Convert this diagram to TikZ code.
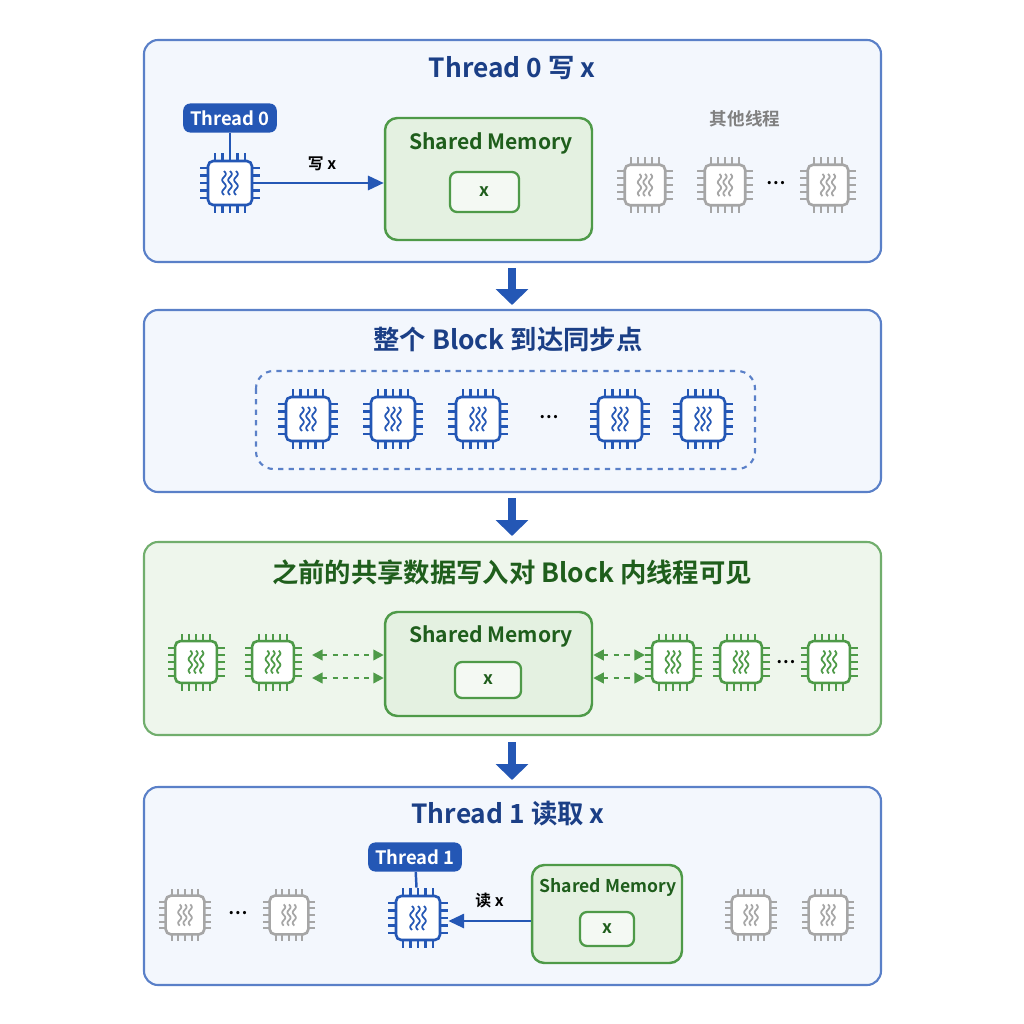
\documentclass[tikz,border=0pt]{standalone}
\usepackage{fontspec}
\setmainfont{Noto Sans CJK SC}[BoldFont={Noto Sans CJK SC Bold}]
\usetikzlibrary{arrows.meta,positioning}
\definecolor{bblue}{HTML}{2457B5}
\definecolor{pblue}{HTML}{5A80C8}
\definecolor{tblue}{HTML}{1B3F86}
\definecolor{bfill}{HTML}{F3F7FD}
\definecolor{ggreen}{HTML}{4E9A48}
\definecolor{tgreen}{HTML}{1F5E1C}
\definecolor{gfill}{HTML}{EEF6EC}
\definecolor{smfill}{HTML}{E4F1E1}
\definecolor{cgray}{HTML}{A6A6A6}
\tikzset{
  panel/.style={draw=pblue,line width=1.2pt,rounded corners=8pt,fill=bfill},
  gpanel/.style={panel,draw=ggreen!80,fill=gfill},
  title/.style={font=\bfseries\fontsize{15}{18}\selectfont,text=tblue},
  smbox/.style={draw=ggreen,line width=1.4pt,rounded corners=7pt,fill=smfill},
  xbox/.style={draw=ggreen,line width=1.3pt,rounded corners=4pt,fill=white!60!smfill,font=\bfseries,text=tgreen},
  tag/.style={fill=bblue,text=white,rounded corners=4pt,font=\bfseries\fontsize{10.5}{13}\selectfont,inner sep=4pt},
  dots/.style={font=\bfseries},
  arr/.style={bblue,line width=1.6pt,-{Triangle[length=9pt,width=8pt]}},
  downarr/.style={bblue,line width=5pt,-{Triangle[length=9pt,width=18pt]}},
  dashar/.style={ggreen,line width=1.3pt,dashed,{Triangle[length=6pt,width=6pt]}-{Triangle[length=6pt,width=6pt]}},
  pics/chip/.style={code={
    \draw[#1,line width=1.5pt,rounded corners=3pt,fill=white] (-22,-22) rectangle (22,22);
    \foreach \p in {-15,-7.5,0,7.5,15}{
      \draw[#1,line width=1.2pt] (\p,-22)--(\p,-30) (\p,22)--(\p,30) (-22,\p)--(-30,\p) (22,\p)--(30,\p);}
    \foreach \w in {-6,0,6}{
      \draw[#1,line width=1pt] plot[domain=-12:12,samples=25] ({\w+1.8*sin(\x*30)},\x);}
    \node[minimum size=1.2cm,inner sep=0] (-c) {};
  }}
}
\begin{document}
\begin{tikzpicture}[x=0.02cm,y=-0.02cm]
\useasboundingbox (0,0) rectangle (1024,1024);
\fill[white] (0,0) rectangle (1024,1024);
% panel 1
\draw[panel] (144,40) rectangle (881,262);
\node[title] (t1) at (512,68) {Thread 0 写 x};
\pic (c0) at (230,183) {chip=bblue};
\node[tag] (tag0) at (230,118) {Thread 0};
\draw[bblue,line width=1.4pt] (tag0) -- (c0-c);
\node[smbox,minimum width=4.14cm,minimum height=2.44cm] (sm1) at (488.5,179) {};
\node[font=\bfseries\large,text=tgreen] at (491,143) {Shared Memory};
\node[xbox,minimum width=1.38cm,minimum height=0.8cm] (x1) at (484.5,192) {x};
\draw[arr] (c0-c.east) -- node[above=3pt,font=\bfseries\small,text=black] {写 x} (c0-c.east -| sm1.west);
\node[font=\bfseries,text=gray] at (745,119) {其他线程};
\foreach \cx/\n in {645/a,725/b,828/c}{\pic[scale=0.92] (g\n) at (\cx,185) {chip=cgray};}
\node[dots] at (776,183) {…};
\draw[downarr] (512,268) -- (512,305);
% panel 2
\draw[panel] (144,310) rectangle (881,492);
\node[title] (t2) at (508,339) {整个 Block 到达同步点};
\draw[pblue,line width=1.2pt,dashed,rounded corners=10pt] (256,371) rectangle (755,469);
\foreach \cx/\n in {308/a,393/b,478/c,620/d,703/e}{\pic (b\n) at (\cx,419) {chip=bblue};}
\node[dots] at (549,417) {…};
\draw[downarr] (512,498) -- (512,536);
% panel 3
\draw[gpanel] (144,542) rectangle (881,735);
\node[title,text=tgreen] (t3) at (512,572) {之前的共享数据写入对 Block 内线程可见};
\foreach \cx/\n in {196/a,273/b,673/c,741/d,829/e}{\pic[scale=0.95] (v\n) at (\cx,662) {chip=ggreen};}
\node[dots] at (786,662) {…};
\node[smbox,minimum width=4.14cm,minimum height=2.08cm] (sm3) at (488.5,664) {};
\node[font=\bfseries\large,text=tgreen] at (491,636) {Shared Memory};
\node[xbox,minimum width=1.32cm,minimum height=0.72cm] (x3) at (488,680) {x};
\coordinate (l1) at (312,655); \coordinate (l2) at (312,678);
\coordinate (r1) at (645,655); \coordinate (r2) at (645,678);
\draw[dashar] (l1) -- (l1 -| sm3.west);
\draw[dashar] (l2) -- (l2 -| sm3.west);
\draw[dashar] (r1 -| sm3.east) -- (r1);
\draw[dashar] (r2 -| sm3.east) -- (r2);
\draw[downarr] (512,742) -- (512,780);
% panel 4
\draw[panel] (144,787) rectangle (881,985);
\node[title] (t4) at (508,814) {Thread 1 读取 x};
\pic (c1) at (418,918) {chip=bblue};
\node[tag] (tag1) at (415,857) {Thread 1};
\draw[bblue,line width=1.4pt] (tag1) -- (c1-c);
\node[smbox,minimum width=3cm,minimum height=1.96cm] (sm4) at (607,914) {};
\node[font=\bfseries,text=tgreen] at (608,887) {Shared Memory};
\node[xbox,minimum width=1.08cm,minimum height=0.68cm] (x4) at (607,929) {x};
\draw[arr] (sm4.west |- 0,921) -- node[above=3pt,font=\bfseries\small,text=black] {读 x} (c1-c.east |- 0,921);
\foreach \cx/\n in {185/a,289/b,751/c,828/d}{\pic[scale=0.88] (h\n) at (\cx,915) {chip=cgray};}
\node[dots] at (238,913) {…};
\end{tikzpicture}
\end{document}
